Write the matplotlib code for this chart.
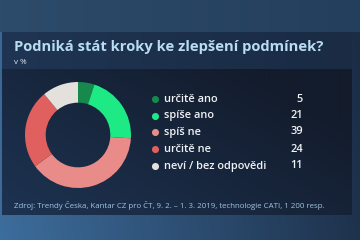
import matplotlib
matplotlib.use("Agg")
import matplotlib.pyplot as plt
import numpy as np
from matplotlib.colors import LinearSegmentedColormap

categories = ["určitě ano", "spíše ano", "spíš ne", "určitě ne", "neví / bez odpovědi"]
values = [5, 21, 39, 24, 11]
colors = ["#17894c", "#1de985", "#e98b88", "#df605f", "#e4e0dc"]
title = "Podniká stát kroky ke zlepšení podmínek?"
subtitle = "v %"
source = "Zdroj: Trendy Česka, Kantar CZ pro ČT, 9. 2. – 1. 3. 2019, technologie CATI, 1 200 resp."

W, H = 360, 240
fig = plt.figure(figsize=(W / 100, H / 100), dpi=100)
bg = fig.add_axes([0, 0, 1, 1])
bg.axis("off")

yy, xx = np.mgrid[0:H, 0:W]
outer = LinearSegmentedColormap.from_list("o", ["#3d6d9c", "#1b2c44"])
grad = np.clip((xx / W) * 0.9 + (1 - yy / H) * 0.1, 0, 1)
bg.imshow(grad, cmap=outer, extent=(0, W, H, 0), aspect="auto", zorder=0)
topc = LinearSegmentedColormap.from_list("t", ["#2d4b6a", "#243f5d"])
bg.imshow(np.tile(np.linspace(0, 1, W), (2, 1)), cmap=topc, extent=(0, W, 32, 0), aspect="auto", zorder=1)
# content panel
panc = LinearSegmentedColormap.from_list("p", ["#1d3352", "#131c2c"])
ph = 215 - 69
pg = np.clip((xx[:ph] / W) * 0.7 + (1 - yy[:ph] / ph) * 0.5, 0, 1)
bg.imshow(pg, cmap=panc, extent=(2, 352, 215, 69), aspect="auto", zorder=2)
# title box
tc = LinearSegmentedColormap.from_list("tb", ["#1f3553", "#1a2b43"])
bg.imshow(np.tile(np.linspace(0, 1, W), (2, 1)), cmap=tc, extent=(2, 352, 69, 32), aspect="auto", zorder=2)
bg.set_xlim(0, W)
bg.set_ylim(H, 0)

font = "Open Sans"
renderer = fig.canvas.get_renderer()


def fit_text(x, y, s, target_w, size0, **kw):
    t = bg.text(x, y, s, fontsize=size0, family=font, zorder=5, **kw)
    w = t.get_window_extent(renderer).width
    t.set_fontsize(size0 * target_w / w)
    return t


fit_text(14, 47, title, 311, 10, fontweight="bold", color="#b8dcf2", va="center", ha="left")
bg.text(14, 62, subtitle, fontsize=5.8, color="#dfe8f0", family=font, va="center", ha="left", zorder=5)
fit_text(14, 206, source, 311, 5.5, color="#a3c4e2", va="center", ha="left")

probe = bg.text(0, 0, categories[-1], fontsize=8, family=font, fontweight="semibold")
lw = probe.get_window_extent(renderer).width
lsize = 8 * 102 / lw
probe.remove()

rows_y = [99, 115.5, 132, 149, 166]
for y, c, lab, v in zip(rows_y, colors, categories, values):
    bg.scatter([155], [y], s=26, color=c, zorder=5, linewidths=0)
    bg.text(164, y, lab, fontsize=lsize, color="#f0f2f5", family=font, fontweight="semibold",
            va="center", ha="left", zorder=5)
    bg.text(303, y, str(v), fontsize=lsize, color="#f0f2f5", family=font, fontweight="semibold",
            va="center", ha="right", zorder=5)

cx, cy, r = 78, 135, 53
ax = fig.add_axes([(cx - r) / W, 1 - (cy + r) / H, 2 * r / W, 2 * r / H])
ax.pie(values, colors=colors, startangle=90, counterclock=False, radius=1,
       wedgeprops=dict(width=0.39, linewidth=0))
ax.set_xlim(-1, 1)
ax.set_ylim(-1, 1)
ax.set_aspect("equal")
ax.axis("off")

fig.savefig("out.png", dpi=100)
